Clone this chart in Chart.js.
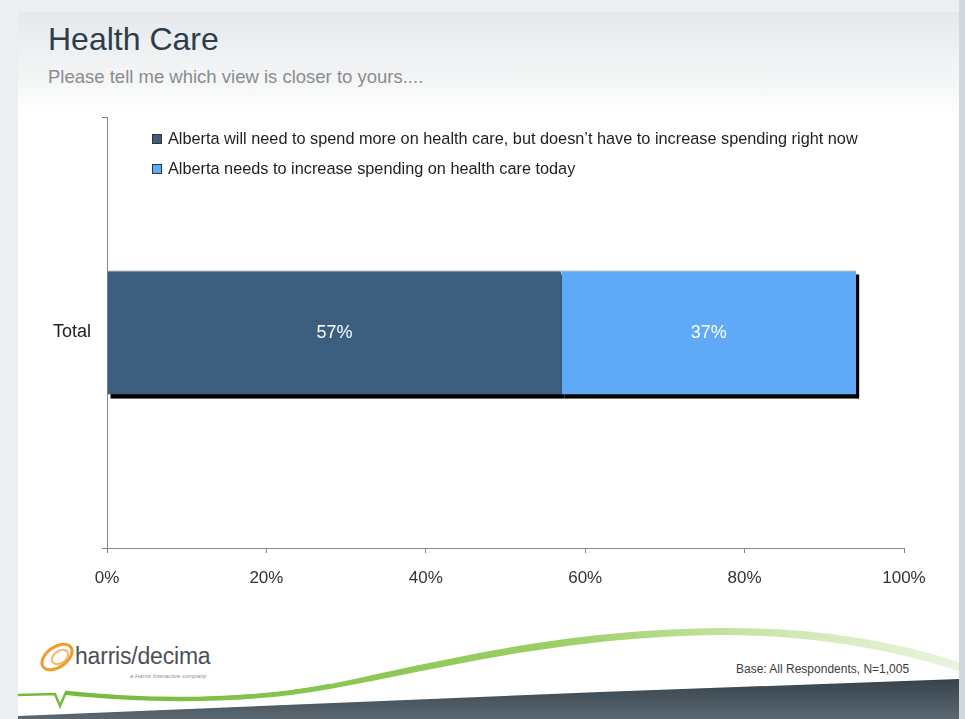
<!DOCTYPE html>
<html>
<head>
<meta charset="utf-8">
<script src="https://cdn.jsdelivr.net/npm/chart.js"></script>
<style>
  body { margin: 0; width: 965px; height: 719px; overflow: hidden; background: #eceef0; font-family: "Liberation Sans", Arial, sans-serif; }
  #slide { position: absolute; left: 18px; top: 12px; width: 941px; height: 707px;
    background: linear-gradient(to bottom, #e6e9ec 0px, #f1f3f4 55px, #ffffff 105px); }
  #edge { position: absolute; left: 959px; top: 0; width: 6px; height: 719px; background: #d3d8dc; }
  #deco { position: absolute; left: 0; top: 0; }
  .title { position: absolute; left: 48px; top: 21px; font-size: 32px; color: #2e3d49; white-space: nowrap; }
  .subtitle { position: absolute; left: 48px; top: 66px; font-size: 18.5px; color: #8a8c8e; white-space: nowrap; }
  .base { position: absolute; left: 736px; top: 662px; font-size: 12px; color: #3a3d40; white-space: nowrap; }
  .brand { position: absolute; left: 75px; top: 643px; font-size: 23px; color: #4b5056; white-space: nowrap; letter-spacing: -0.2px; }
  .tag { position: absolute; left: 130px; top: 673px; font-size: 6px; font-style: italic; color: #8d9094; white-space: nowrap; }
  #wrap { position: absolute; left: 0; top: 0; width: 965px; height: 719px; }
</style>
</head>
<body>
<div id="slide"></div>
<div id="edge"></div>
<svg id="deco" width="965" height="719">
  <defs>
    <linearGradient id="dark" x1="0" y1="0" x2="0" y2="1">
      <stop offset="0" stop-color="#36424c"/>
      <stop offset="1" stop-color="#5b6771"/>
    </linearGradient>
    <linearGradient id="green" x1="0" y1="0" x2="1" y2="0">
      <stop offset="0" stop-color="#74bb3a"/>
      <stop offset="0.55" stop-color="#9ccf66"/>
      <stop offset="0.8" stop-color="#cfe8b0"/>
      <stop offset="1" stop-color="#eaf4df"/>
    </linearGradient>
  </defs>
  <path d="M18,716 L600,692 L959,679 L959,719 L18,719 Z" fill="url(#dark)"/>
  <path d="M18,695 L55,694 L60,706 L66,692 C150,701 250,701 330,685" fill="none" stroke="#74bb3a" stroke-width="2.5"/>
  <path d="M66,692 C150,700 250,700 330,684 C450,659 560,630 720,628 C820,627 900,643 959,662
           L959,671 C900,652 820,635 720,635 C560,637 450,667 330,689 C250,704 150,704 66,695 Z" fill="url(#green)"/>
  <ellipse cx="57" cy="657" rx="17" ry="10" transform="rotate(-35 57 657)" fill="none" stroke="#f39a2c" stroke-width="3"/>
  <ellipse cx="60" cy="657" rx="9" ry="6" transform="rotate(-35 60 657)" fill="none" stroke="#f7b566" stroke-width="2"/>
</svg>
<div class="title">Health Care</div>
<div class="subtitle">Please tell me which view is closer to yours....</div>
<div class="brand">harris/decima</div>
<div class="tag">a Harris Interactive company</div>
<div class="base">Base: All Respondents, N=1,005</div>
<div id="wrap"><canvas id="myChart" width="965" height="719"></canvas></div>
<script>
const categories = ['Total'];
const seriesLabels = [
  'Alberta will need to spend more on health care, but doesn\u2019t have to increase spending right now',
  'Alberta needs to increase spending on health care today'
];
const seriesValues = [
  [57],
  [37]
];
const seriesColors = ['#3c5f80', '#5eaaf7'];
const xTicks = [0, 20, 40, 60, 80, 100];

const axisColor = '#7d8791';

// black drop shadow behind all bars, drawn before the bars themselves
const barShadow = {
  id: 'barShadow',
  beforeDatasetsDraw(chart) {
    const c = chart.ctx;
    c.save();
    c.fillStyle = '#000';
    chart.data.datasets.forEach((ds, i) => {
      chart.getDatasetMeta(i).data.forEach(el => {
        const p = el.getProps(['x', 'y', 'base', 'height'], true);
        const left = Math.min(p.x, p.base);
        c.fillRect(left + 3, p.y - p.height / 2 + 4, Math.abs(p.x - p.base), p.height);
      });
    });
    c.restore();
  }
};

// value labels in the middle of each segment
const valueLabels = {
  id: 'valueLabels',
  afterDatasetsDraw(chart) {
    const c = chart.ctx;
    c.save();
    c.fillStyle = '#fff';
    c.font = '18px "Liberation Sans", Arial, sans-serif';
    c.textAlign = 'center';
    c.textBaseline = 'middle';
    chart.data.datasets.forEach((ds, i) => {
      chart.getDatasetMeta(i).data.forEach((el, j) => {
        const p = el.getProps(['x', 'y', 'base'], true);
        c.fillText(ds.data[j] + '%', (p.x + p.base) / 2, p.y + 1);
      });
    });
    c.restore();
  }
};

// legend drawn inside the plot, top left
const innerLegend = {
  id: 'innerLegend',
  afterDraw(chart) {
    const c = chart.ctx;
    const a = chart.chartArea;
    c.save();
    c.font = '16.3px "Liberation Sans", Arial, sans-serif';
    c.textBaseline = 'middle';
    chart.data.datasets.forEach((ds, i) => {
      const x = a.left + 45;
      const y = a.top + 22 + i * 30;
      c.fillStyle = ds.backgroundColor;
      c.fillRect(x, y - 5, 10, 10);
      c.strokeStyle = '#333';
      c.lineWidth = 1;
      c.strokeRect(x + 0.5, y - 4.5, 9, 9);
      c.fillStyle = '#1e1e1e';
      c.fillText(ds.label, x + 16, y + 1);
    });
    c.restore();
  }
};

new Chart(document.getElementById('myChart'), {
  type: 'bar',
  data: {
    labels: categories,
    datasets: seriesLabels.map((label, i) => ({
      label: label,
      data: seriesValues[i],
      backgroundColor: seriesColors[i],
      borderColor: '#7d8b97',
      borderWidth: { top: 1, bottom: 0, left: 0, right: 0 },
      borderSkipped: false,
      barPercentage: 0.288,
      categoryPercentage: 1
    }))
  },
  options: {
    indexAxis: 'y',
    responsive: false,
    animation: false,
    layout: { padding: { left: 0, right: 61, top: 117, bottom: 111 } },
    plugins: {
      legend: { display: false },
      tooltip: { enabled: false }
    },
    scales: {
      x: {
        stacked: true,
        min: 0,
        max: 100,
        afterBuildTicks(scale) { scale.ticks = xTicks.map(v => ({ value: v })); },
        afterFit(scale) { scale.height = 60; },
        grid: { drawOnChartArea: false, drawTicks: true, tickLength: 5, color: axisColor },
        border: { color: axisColor },
        ticks: {
          padding: 15,
          color: '#333',
          font: { family: '"Liberation Sans", Arial, sans-serif', size: 17 },
          callback: v => v + '%'
        }
      },
      y: {
        stacked: true,
        afterFit(scale) { scale.width = 107; },
        grid: { drawOnChartArea: false, drawTicks: true, tickLength: 5, color: axisColor },
        border: { color: axisColor },
        ticks: {
          padding: 11,
          color: '#222',
          font: { family: '"Liberation Sans", Arial, sans-serif', size: 18 }
        }
      }
    }
  },
  plugins: [barShadow, valueLabels, innerLegend]
});
</script>
</body>
</html>
